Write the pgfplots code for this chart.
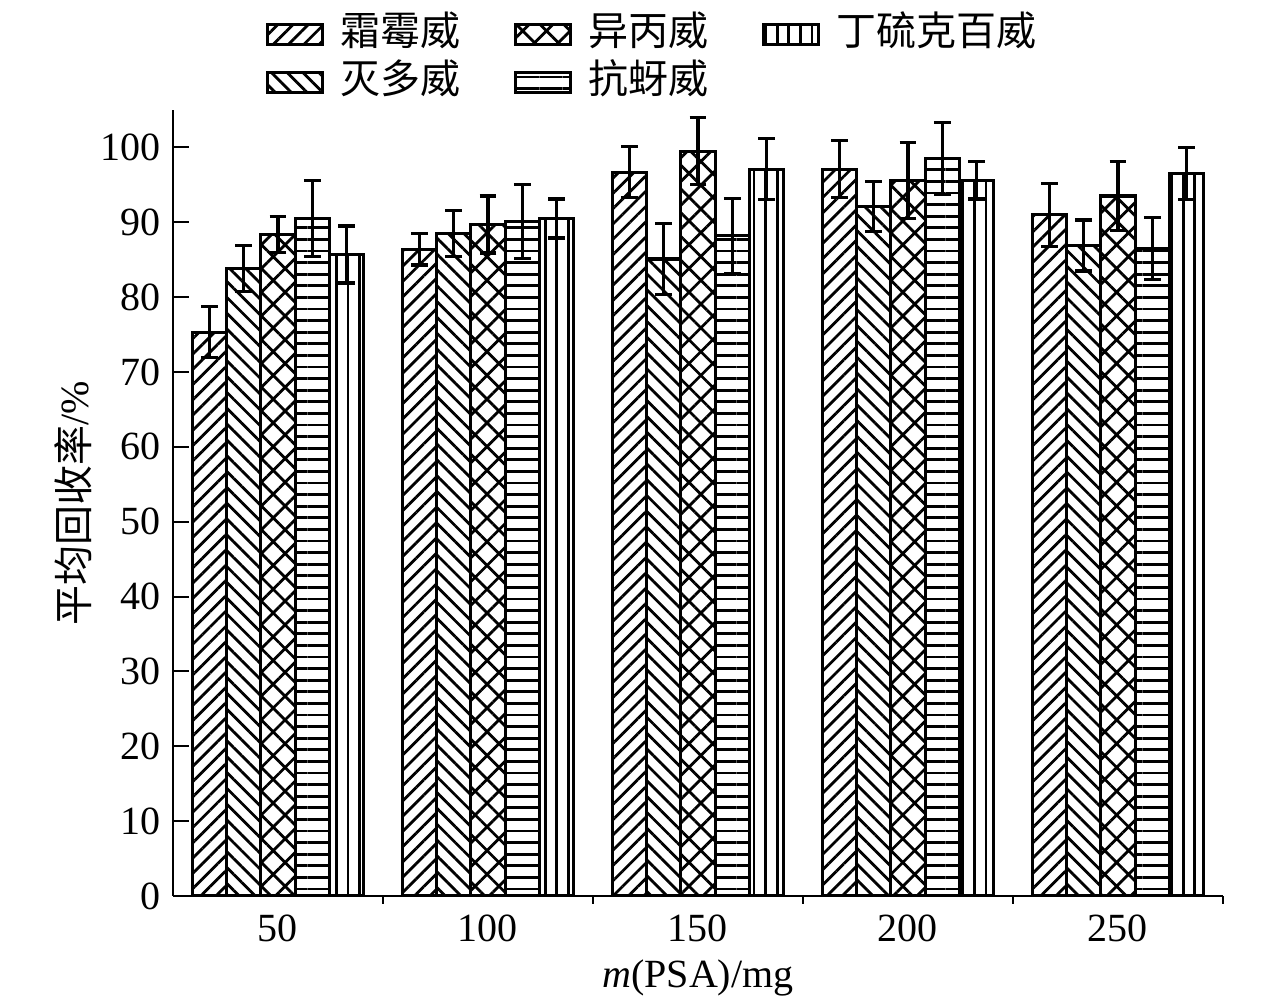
\documentclass[border=0pt]{standalone}
\usepackage{fontspec}
\setmainfont{Liberation Serif}
\newfontfamily\cjk{Noto Sans CJK SC}
\usepackage{pgfplots}
\pgfplotsset{compat=1.18}
\usetikzlibrary{patterns.meta}
\begin{document}
\begin{tikzpicture}
\useasboundingbox (-43.25pt,-27.25pt) rectangle (275.75pt,224pt);
\begin{axis}[
  at={(0,0)}, anchor=south west,
  scale only axis, width=262.5pt, height=196.5pt,
  xmin=0.5, xmax=5.5, ymin=0, ymax=105,
  axis x line=bottom, axis y line=left,
  axis line style={-, line width=0.5pt},
  xtick={1,2,3,4,5}, xticklabels={50,100,150,200,250},
  minor xtick={1.5,2.5,3.5,4.5,5.5},
  major x tick style={draw=none},
  minor x tick style={line width=0.5pt, black},
  ytick={0,10,...,100},
  tick align=inside, major tick length=4pt, minor tick length=2pt,
  y tick style={line width=0.5pt, black},
  /pgf/number format/assume math mode=true,
  tick label style={font=\fontsize{10}{12}\selectfont},
  xticklabel style={anchor=north, inner sep=0pt, yshift=-0.5pt},
  yticklabel style={anchor=east, inner sep=0pt, xshift=-3pt},
  xlabel={\textit{m}(PSA)/mg},
  ylabel={{\cjk 平均回收率}/\%},
  xlabel style={at={(axis description cs:0.5,0)}, anchor=center, yshift=-20.5pt},
  ylabel style={at={(axis description cs:-0.0952,0.5)}, anchor=center},
  ybar=0pt, bar width=0.163,
  legend image code/.code={\draw[#1, line width=0.8pt] (0pt,-3.25pt) rectangle (13.75pt,1.75pt);},
  transpose legend, legend columns=2,
  legend style={at={(rel axis cs:0,1)}, anchor=north west, xshift=23pt, yshift=24.75pt,
    draw=none, fill=none, inner sep=0pt, row sep=2pt,
    font=\cjk,
    nodes={inner sep=0pt},
    /tikz/every odd column/.append style={column sep=4.25pt},
    /tikz/every even column/.append style={column sep=13.2pt}},
  legend cell align=left,
]
\addplot[draw=black, line width=0.8pt, pattern={Lines[angle=45,distance=2.7pt,line width=0.7pt]},
  error bars/.cd, y dir=both, y explicit,
  error bar style={line width=0.8pt, solid}, error mark options={rotate=90, mark size=2.1pt, line width=0.8pt}]
  coordinates {(1,75.3) +- (0,3.4) (2,86.4) +- (0,2.1) (3,96.7) +- (0,3.4) (4,97.1) +- (0,3.8) (5,91.0) +- (0,4.2)};
\addlegendentry{霜霉威}
\addplot[draw=black, line width=0.8pt, pattern={Lines[angle=-45,distance=2.8pt,line width=0.7pt]},
  error bars/.cd, y dir=both, y explicit,
  error bar style={line width=0.8pt, solid}, error mark options={rotate=90, mark size=2.1pt, line width=0.8pt}]
  coordinates {(1,83.8) +- (0,3.1) (2,88.5) +- (0,3.1) (3,85.1) +- (0,4.7) (4,92.1) +- (0,3.3) (5,86.9) +- (0,3.4)};
\addlegendentry{灭多威}
\addplot[draw=black, line width=0.8pt, pattern={Hatch[angle=45,distance=4.2pt,line width=0.7pt]},
  error bars/.cd, y dir=both, y explicit,
  error bar style={line width=0.8pt, solid}, error mark options={rotate=90, mark size=2.1pt, line width=0.8pt}]
  coordinates {(1,88.4) +- (0,2.4) (2,89.7) +- (0,3.8) (3,99.5) +- (0,4.5) (4,95.6) +- (0,5.1) (5,93.5) +- (0,4.6)};
\addlegendentry{异丙威}
\addplot[draw=black, line width=0.8pt, pattern={Lines[angle=0,distance=2.9pt,line width=0.7pt]},
  error bars/.cd, y dir=both, y explicit,
  error bar style={line width=0.8pt, solid}, error mark options={rotate=90, mark size=2.1pt, line width=0.8pt}]
  coordinates {(1,90.5) +- (0,5.1) (2,90.1) +- (0,4.9) (3,88.2) +- (0,5.0) (4,98.5) +- (0,4.8) (5,86.5) +- (0,4.1)};
\addlegendentry{抗蚜威}
\addplot[draw=black, line width=0.8pt, pattern={Lines[angle=90,distance=2.9pt,line width=0.7pt]},
  error bars/.cd, y dir=both, y explicit,
  error bar style={line width=0.8pt, solid}, error mark options={rotate=90, mark size=2.1pt, line width=0.8pt}]
  coordinates {(1,85.7) +- (0,3.8) (2,90.5) +- (0,2.6) (3,97.1) +- (0,4.1) (4,95.6) +- (0,2.5) (5,96.5) +- (0,3.5)};
\addlegendentry{丁硫克百威}
\end{axis}
\end{tikzpicture}
\end{document}
